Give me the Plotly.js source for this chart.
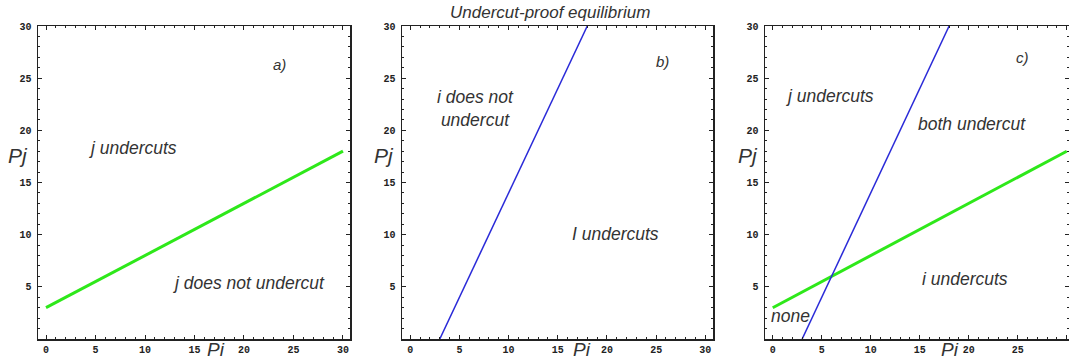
<!DOCTYPE html>
<html>
<head>
<meta charset="utf-8">
<script src="https://cdn.plot.ly/plotly-3.0.1.min.js"></script>
<style>
  body { margin: 0; background: #fff; }
  #grafica { width: 1069px; height: 362px; }
</style>
</head>
<body>
<div id="grafica"></div>
<script>
// j's undercut boundary (green): Pj = 3 + Pi/2
const piVerde = [0, 30];
const pjVerde = [3, 18];
// i's undercut boundary (blue): Pj = 2(Pi - 3)
const piAzul = [3, 18];
const pjAzul = [0, 30];

const ticksX = [0, 5, 10, 15, 20, 25, 30];
const ticksY = [5, 10, 15, 20, 25, 30];

const tituloGeneral = 'Undercut-proof equilibrium';
const etiquetasA = [
    { x: 23.6, y: 26.3, t: 'a)' },
    { x: 8.8, y: 18.3, t: 'j undercuts' },
    { x: 20.5, y: 5.4, t: 'j does not undercut' }
];
const etiquetasB = [
    { x: 25.6, y: 26.6, t: 'b)' },
    { x: 6.6, y: 22.1, t: 'i does not<br>undercut' },
    { x: 20.9, y: 10.1, t: 'I undercuts' }
];
const etiquetasC = [
    { x: 25.5, y: 27.0, t: 'c)' },
    { x: 5.8, y: 23.3, t: 'j undercuts' },
    { x: 20.3, y: 20.6, t: 'both undercut' },
    { x: 19.6, y: 5.75, t: 'i undercuts' },
    { x: 1.8, y: 2.2, t: 'none' }
];

const verde = '#2ee81a';
const azul = '#2a2ad8';
const fuenteTexto = 'Liberation Sans, Arial, sans-serif';

function ejeX(dominio, rango) {
    return {
        domain: dominio,
        range: rango,
        tickvals: ticksX,
        ticks: 'inside',
        ticklen: 4,
        tickcolor: '#222',
        minor: { dtick: 1, ticks: 'inside', ticklen: 2, tickcolor: '#222' },
        showline: true,
        linecolor: '#222',
        linewidth: 1.5,
        mirror: 'ticks',
        showgrid: false,
        zeroline: false,
        tickfont: { family: 'Liberation Mono, monospace', size: 10, color: '#222', weight: 'bold' },
        fixedrange: true
    };
}

function ejeY(dominio) {
    return {
        domain: dominio,
        range: [0, 30],
        tickvals: ticksY,
        ticks: 'inside',
        ticklen: 4,
        tickcolor: '#222',
        minor: { dtick: 1, ticks: 'inside', ticklen: 2, tickcolor: '#222' },
        showline: true,
        linecolor: '#222',
        linewidth: 1.5,
        mirror: 'ticks',
        showgrid: false,
        zeroline: false,
        ticklabelstandoff: 3,
        tickfont: { family: 'Liberation Mono, monospace', size: 10, color: '#222', weight: 'bold' },
        fixedrange: true
    };
}

const dominioY = [1 - 339 / 362, 1 - 26 / 362];

const trazas = [
    { x: piVerde, y: pjVerde, xaxis: 'x', yaxis: 'y', mode: 'lines', line: { color: verde, width: 3 } },
    { x: piAzul, y: pjAzul, xaxis: 'x2', yaxis: 'y2', mode: 'lines', line: { color: azul, width: 1.5 } },
    { x: piVerde, y: pjVerde, xaxis: 'x3', yaxis: 'y3', mode: 'lines', line: { color: verde, width: 3 } },
    { x: piAzul, y: pjAzul, xaxis: 'x3', yaxis: 'y3', mode: 'lines', line: { color: azul, width: 1.5 } }
];

const anotaciones = [];
function agregarEtiquetas(lista, ref) {
    lista.forEach(e => {
        anotaciones.push({
            x: e.x, y: e.y, xref: 'x' + ref, yref: 'y' + ref,
            xanchor: 'center', yanchor: 'middle',
            text: e.t, showarrow: false,
            font: { family: fuenteTexto, size: e.t.length <= 2 ? 15 : 17.5, color: '#333', style: 'italic' }
        });
    });
}
agregarEtiquetas(etiquetasA, '');
agregarEtiquetas(etiquetasB, '2');
agregarEtiquetas(etiquetasC, '3');

// Etiquetas de ejes en coordenadas de pixel
const etiquetasEjes = [
    { x: 18, y: 155, t: 'Pj', s: 21 }, { x: 216, y: 349, t: 'Pi', s: 19 },
    { x: 384, y: 155, t: 'Pj', s: 21 }, { x: 582, y: 349, t: 'Pi', s: 19 },
    { x: 748, y: 155, t: 'Pj', s: 21 }, { x: 950, y: 349, t: 'Pi', s: 19 }
];
etiquetasEjes.forEach(e => {
    anotaciones.push({
        x: e.x / 1069, y: 1 - e.y / 362, xref: 'paper', yref: 'paper',
        xanchor: 'center', yanchor: 'middle',
        text: e.t, showarrow: false,
        font: { family: fuenteTexto, size: e.s, color: '#333', style: 'italic' }
    });
});
anotaciones.push({
    x: 550 / 1069, y: 1 - 13 / 362, xref: 'paper', yref: 'paper',
    xanchor: 'center', yanchor: 'middle',
    text: tituloGeneral, showarrow: false,
    font: { family: fuenteTexto, size: 17, color: '#333', style: 'italic' }
});

const layout = {
    width: 1069,
    height: 362,
    margin: { l: 0, r: 0, t: 0, b: 0 },
    paper_bgcolor: '#fff',
    plot_bgcolor: '#fff',
    showlegend: false,
    xaxis: ejeX([38 / 1069, 350 / 1069], [-0.81, 30.71]),
    yaxis: ejeY(dominioY),
    xaxis2: Object.assign(ejeX([402 / 1069, 713 / 1069], [-0.84, 30.78]), { anchor: 'y2' }),
    yaxis2: Object.assign(ejeY(dominioY), { anchor: 'x2' }),
    xaxis3: Object.assign(ejeX([765 / 1069, 1], [-0.79, 30.23]), { anchor: 'y3' }),
    yaxis3: Object.assign(ejeY(dominioY), { anchor: 'x3' }),
    annotations: anotaciones
};

Plotly.newPlot('grafica', trazas, layout, { displayModeBar: false, staticPlot: true });
</script>
</body>
</html>
